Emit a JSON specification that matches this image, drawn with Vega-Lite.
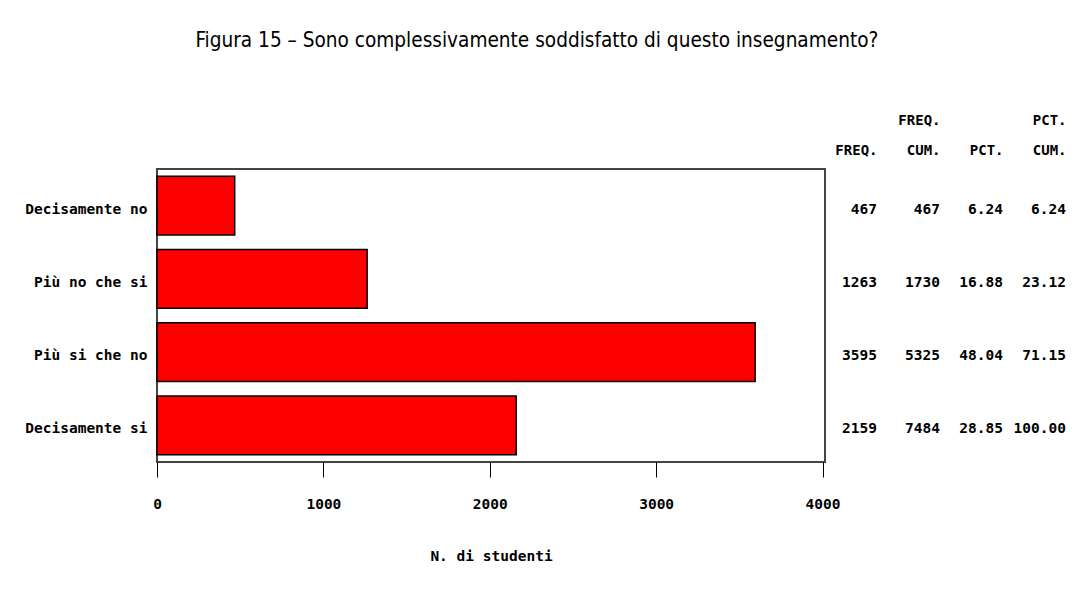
{
  "$schema": "https://vega.github.io/schema/vega-lite/v6.json",
  "padding": {"left": 23, "top": 31, "right": 5, "bottom": 5},
  "background": "white",
  "title": {
    "text": "Figura 15 – Sono complessivamente soddisfatto di questo insegnamento?",
    "font": "DejaVu Sans Condensed, Roboto",
    "fontSize": 20.6,
    "fontWeight": "normal",
    "color": "black",
    "anchor": "middle",
    "dx": -8,
    "offset": 61
  },
  "datasets": {
    "risposte": [
      {"risposta": "Decisamente no", "freq": 467, "cumfreq": 467, "pct": 6.24, "cumpct": 6.24},
      {"risposta": "Più no che si", "freq": 1263, "cumfreq": 1730, "pct": 16.88, "cumpct": 23.12},
      {"risposta": "Più si che no", "freq": 3595, "cumfreq": 5325, "pct": 48.04, "cumpct": 71.15},
      {"risposta": "Decisamente si", "freq": 2159, "cumfreq": 7484, "pct": 28.85, "cumpct": 100.0}
    ]
  },
  "spacing": 52,
  "bounds": "flush",
  "resolve": {"scale": {"y": "shared"}},
  "hconcat": [
    {
      "width": 668,
      "height": 293,
      "view": {"stroke": "#444444", "strokeWidth": 2},
      "data": {"name": "risposte"},
      "mark": {"type": "bar", "color": "#ff0000", "stroke": "black", "strokeWidth": 1.5},
      "encoding": {
        "y": {
          "field": "risposta",
          "type": "nominal",
          "sort": null,
          "scale": {"paddingInner": 0.2, "paddingOuter": 0.1},
          "axis": {
            "title": null,
            "ticks": false,
            "domain": false,
            "labelPadding": 10,
            "labelFont": "DejaVu Sans Mono",
            "labelFontSize": 14.5,
            "labelFontWeight": "bold",
            "labelColor": "black",
            "labelOffset": 4
          }
        },
        "x": {
          "field": "freq",
          "type": "quantitative",
          "scale": {"domain": [0, 4015], "nice": false},
          "axis": {
            "values": [0, 1000, 2000, 3000, 4000],
            "format": "d",
            "title": "N. di studenti",
            "titleFont": "DejaVu Sans Mono",
            "titleFontSize": 14.5,
            "titleFontWeight": "bold",
            "titleColor": "black",
            "titlePadding": 39,
            "grid": false,
            "domain": false,
            "ticks": true,
            "tickSize": 15,
            "tickColor": "black",
            "tickWidth": 1,
            "labelPadding": 20,
            "labelFont": "DejaVu Sans Mono",
            "labelFontSize": 14.5,
            "labelFontWeight": "bold",
            "labelColor": "black",
            "labelFlush": false
          }
        }
      }
    },
    {
      "width": 189,
      "height": 293,
      "view": {"stroke": null},
      "data": {"name": "risposte"},
      "encoding": {
        "y": {"field": "risposta", "type": "nominal", "sort": null, "axis": null},
        "x": {
          "field": "col",
          "type": "nominal",
          "scale": {"type": "point", "domain": ["freq", "cumfreq", "pct", "cumpct"], "padding": 0},
          "axis": {
            "orient": "top",
            "title": null,
            "domain": false,
            "ticks": false,
            "grid": false,
            "labelAngle": 0,
            "labelPadding": 42,
            "labelAlign": "right",
            "labelOverlap": false,
            "labelBound": false,
            "labelFlush": false,
            "labelFont": "DejaVu Sans Mono",
            "labelFontSize": 14,
            "labelFontWeight": "bold",
            "labelLineHeight": 30,
            "labelColor": "black",
            "labelExpr": "datum.value == 'freq' ? ['', 'FREQ.'] : datum.value == 'cumfreq' ? ['FREQ.', 'CUM.'] : datum.value == 'pct' ? ['', 'PCT.'] : ['PCT.', 'CUM.']"
          }
        }
      },
      "layer": [
        {
          "transform": [{"fold": ["freq", "cumfreq"], "as": ["col", "val"]}],
          "mark": {"type": "text", "align": "right", "baseline": "middle", "dy": 4, "font": "DejaVu Sans Mono", "fontSize": 14.5, "fontWeight": "bold", "color": "black"},
          "encoding": {"text": {"field": "val", "type": "quantitative", "format": "d"}}
        },
        {
          "transform": [{"fold": ["pct", "cumpct"], "as": ["col", "val"]}],
          "mark": {"type": "text", "align": "right", "baseline": "middle", "dy": 4, "font": "DejaVu Sans Mono", "fontSize": 14.5, "fontWeight": "bold", "color": "black"},
          "encoding": {"text": {"field": "val", "type": "quantitative", "format": ".2f"}}
        }
      ]
    }
  ]
}
